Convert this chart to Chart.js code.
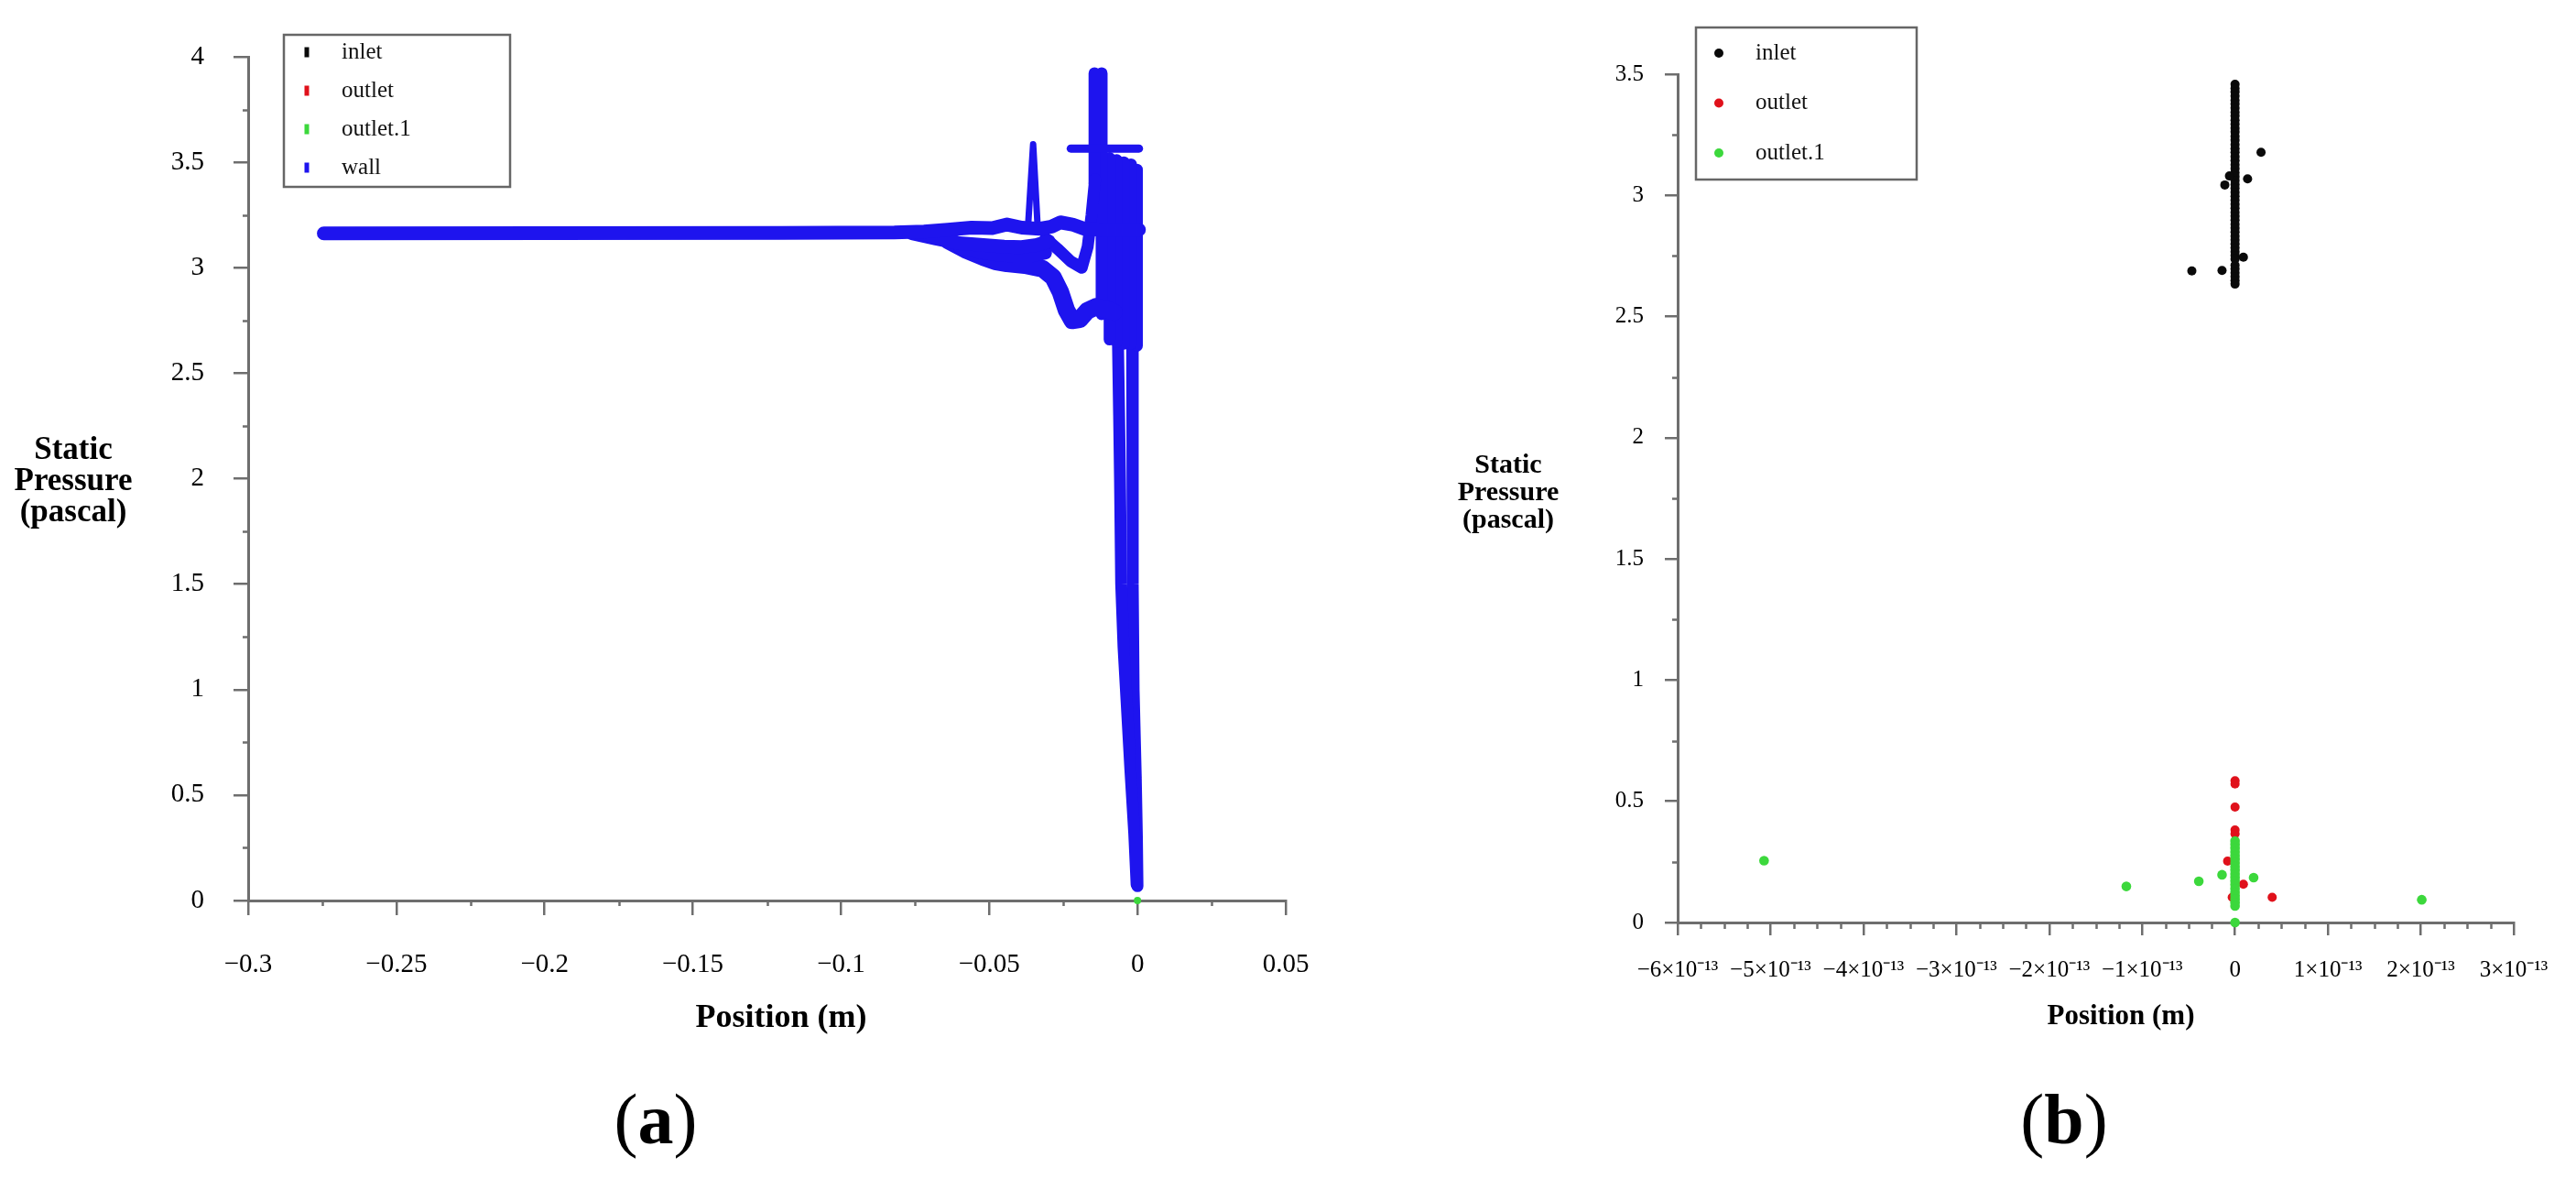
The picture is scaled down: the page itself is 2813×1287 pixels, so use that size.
<!DOCTYPE html>
<html><head><meta charset="utf-8">
<script src="https://cdn.jsdelivr.net/npm/chart.js@4.4.1/dist/chart.umd.min.js"></script>
<style>
html,body{margin:0;padding:0;background:#fff;width:2813px;height:1287px;overflow:hidden;}
canvas{position:absolute;top:0;}
#ca{left:0;} #cb{left:1470px;}
.cap{position:absolute;font-family:"Liberation Serif",serif;font-size:78px;line-height:1;transform:translate(-50%,-50%);color:#000;white-space:nowrap;}
</style></head><body>
<canvas id="ca" width="1470" height="1287"></canvas>
<canvas id="cb" width="1343" height="1287"></canvas>
<div class="cap" style="left:716px;top:1222px">(<b>a</b>)</div>
<div class="cap" style="left:2254px;top:1222px">(<b>b</b>)</div>
<script>
// ---------- data ----------
const seriesNames = ['inlet', 'outlet', 'outlet.1', 'wall'];

// inlet: dense column at x≈0 plus a few scattered points
const inletX = [0,0,0,0,0,0,0,0,0,0,0,0,0,0,0,0,0,0,0,0,0,0,0,0,0,0,0,0,0,0,0,0,0,0,0,0,0,0,0,0,0,0,0,0,0,0,0,0,0,0,0,
  0.28e-13, 0.135e-13, -0.11e-13, -0.06e-13, 0.09e-13, -0.465e-13, -0.14e-13];
const inletY = [3.458,3.441,3.427,3.41,3.392,3.377,3.36,3.343,3.328,3.31,3.294,3.277,3.262,3.244,3.228,3.21,3.193,3.178,3.16,3.144,3.127,3.111,3.094,3.078,3.062,3.045,3.029,3.012,2.996,2.98,2.963,2.947,2.93,2.914,2.898,2.881,2.865,2.849,2.832,2.816,2.8,2.784,2.768,2.752,2.737,2.712,2.697,2.681,2.665,2.649,2.634,
  3.178, 3.068, 3.043, 3.08, 2.745, 2.688, 2.69];

const outletX = [0, 0, 0, 0, 0, -0.08e-13, 0.09e-13, -0.03e-13, 0.40e-13];
const outletY = [0.585, 0.572, 0.476, 0.382, 0.366, 0.253, 0.158, 0.104, 0.104];

const outlet1X = [-5.07e-13, -1.17e-13, -0.39e-13, -0.14e-13, 0.20e-13, 2.01e-13,
  0,0,0,0,0,0,0,0,0,0,0,0,0,0,0,0,0,0,0, 0];
const outlet1Y = [0.255, 0.149, 0.170, 0.197, 0.185, 0.094,
  0.336,0.322,0.307,0.291,0.276,0.262,0.246,0.231,0.216,0.2,0.186,0.171,0.156,0.14,0.125,0.111,0.096,0.082,0.068, 0.0];

// wall traces (position m, pressure Pa)
const wallMain = [[-0.2745,3.163],[-0.2,3.164],[-0.12,3.165],[-0.082,3.167],[-0.072,3.172],[-0.064,3.18],[-0.056,3.19],[-0.049,3.188],[-0.044,3.205],[-0.039,3.19],[-0.033,3.185],[-0.029,3.195],[-0.026,3.215],[-0.022,3.205],[-0.018,3.185],[-0.012,3.18],[-0.006,3.18],[0.0005,3.18]];
const wallSecond = [[-0.076,3.163],[-0.068,3.138],[-0.06,3.116],[-0.052,3.108],[-0.045,3.1],[-0.039,3.098],[-0.034,3.108],[-0.03,3.125]];
const wallThird = [[-0.06,3.095],[-0.054,3.075],[-0.048,3.062],[-0.042,3.055],[-0.036,3.055],[-0.031,3.07]];
const wallLower = [[-0.064,3.13],[-0.058,3.085],[-0.052,3.05],[-0.048,3.03],[-0.044,3.02],[-0.038,3.012],[-0.032,2.995],[-0.0285,2.955],[-0.026,2.885],[-0.024,2.8],[-0.022,2.75],[-0.0195,2.755],[-0.017,2.795],[-0.014,2.815],[-0.011,2.805],[-0.008,2.79]];
const wallV = [[-0.031,3.14],[-0.027,3.09],[-0.0225,3.03],[-0.0188,3.0],[-0.0168,3.1],[-0.0155,3.25],[-0.0143,3.42]];
const wallSpike = [[-0.0369,3.2],[-0.0352,3.585],[-0.0337,3.2]];
const wallBar = [[-0.0225,3.565],[0.0005,3.565]];
const wallTallL = [[-0.0145,3.922],[-0.0145,3.4]];
const wallTallR = [[-0.0121,3.922],[-0.0121,2.78]];
const wallMid1 = [[-0.0094,3.52],[-0.0094,2.66]];
const wallMid2 = [[-0.0070,3.51],[-0.0070,2.65]];
const wallMid3 = [[-0.0046,3.50],[-0.0046,2.64]];
const wallMid4 = [[-0.0022,3.49],[-0.0022,2.64]];
const wallRight = [[-0.0002,3.465],[-0.0002,2.63]];
const wallColL = [[-0.0066,2.66],[-0.0062,2.3],[-0.0059,2.0],[-0.0055,1.5],[-0.0047,1.2],[-0.0037,0.95],[-0.0024,0.62],[-0.0011,0.32],[-0.0003,0.075]];
const wallColR = [[-0.0018,2.66],[-0.0016,2.0],[-0.0016,1.5],[-0.0013,1.0],[-0.0006,0.6],[-0.0002,0.3],[0.0,0.068]];

// ticks
const xTicksA = [-0.3,-0.25,-0.2,-0.15,-0.1,-0.05,0,0.05];
const xLabelsA = ['\u22120.3','\u22120.25','\u22120.2','\u22120.15','\u22120.1','\u22120.05','0','0.05'];
const yTicksA = [0,0.5,1,1.5,2,2.5,3,3.5,4];
const yLabelsA = ['0','0.5','1','1.5','2','2.5','3','3.5','4'];
const xTicksB = [-6e-13,-5e-13,-4e-13,-3e-13,-2e-13,-1e-13,0,1e-13,2e-13,3e-13];
const xLabelsB = ['\u22126\u00d710\u207b\u00b9\u00b3','\u22125\u00d710\u207b\u00b9\u00b3','\u22124\u00d710\u207b\u00b9\u00b3','\u22123\u00d710\u207b\u00b9\u00b3','\u22122\u00d710\u207b\u00b9\u00b3','\u22121\u00d710\u207b\u00b9\u00b3','0','1\u00d710\u207b\u00b9\u00b3','2\u00d710\u207b\u00b9\u00b3','3\u00d710\u207b\u00b9\u00b3'];
const yTicksB = [0,0.5,1,1.5,2,2.5,3,3.5];
const yLabelsB = ['0','0.5','1','1.5','2','2.5','3','3.5'];

// ---------- styling ----------
const FONT = '"Liberation Serif","Times New Roman",serif';
const COL = { inlet:'#0a0a0a', outlet:'#e0111b', outlet1:'#3cd83c', wall:'#1e14ee' };
const AXIS = '#6e6e6e';

const pts = (xs, ys) => xs.map((x, i) => ({x, y: ys[i]}));
const tr = arr => arr.map(([x, y]) => ({x, y}));

const minorTicks = {
  id: 'minorTicks',
  afterDraw(chart, args, o) {
    const {ctx, chartArea: ca, scales} = chart;
    const sx = scales.x, sy = scales.y;
    ctx.save(); ctx.strokeStyle = AXIS; ctx.lineWidth = 2.5;
    const nx = Math.round((sx.max - sx.min) / o.xStep);
    for (let i = 0; i <= nx; i++) {
      if (i % o.xRatio === 0) continue;
      const p = Math.round(sx.getPixelForValue(sx.min + i * o.xStep)) + 0.5;
      ctx.beginPath(); ctx.moveTo(p, ca.bottom); ctx.lineTo(p, ca.bottom + o.xLen); ctx.stroke();
    }
    const ny = Math.round((sy.max - sy.min) / o.yStep);
    for (let i = 0; i <= ny; i++) {
      if (i % o.yRatio === 0) continue;
      const p = Math.round(sy.getPixelForValue(sy.min + i * o.yStep)) + 0.5;
      ctx.beginPath(); ctx.moveTo(ca.left, p); ctx.lineTo(ca.left - o.yLen, p); ctx.stroke();
    }
    ctx.restore();
  }
};

const axisText = {
  id: 'axisText',
  afterDraw(chart, args, o) {
    const ctx = chart.ctx;
    ctx.save();
    ctx.fillStyle = '#000'; ctx.textAlign = 'center'; ctx.textBaseline = 'middle';
    ctx.font = 'bold ' + o.xFont + 'px ' + FONT;
    ctx.fillText(o.xText, o.xPos[0], o.xPos[1]);
    ctx.font = 'bold ' + o.yFont + 'px ' + FONT;
    o.yLines.forEach((t, i) => ctx.fillText(t, o.yPos[0], o.yPos[1] + (i - (o.yLines.length - 1) / 2) * o.yGap));
    ctx.restore();
  }
};

const boxLegend = {
  id: 'boxLegend',
  afterDraw(chart, args, o) {
    const ctx = chart.ctx;
    const seen = new Set(), items = [];
    chart.data.datasets.forEach(ds => {
      if (!seen.has(ds.label)) { seen.add(ds.label); items.push({label: ds.label, color: ds.showLine ? ds.borderColor : ds.backgroundColor}); }
    });
    ctx.save();
    ctx.fillStyle = '#fff'; ctx.fillRect(o.x, o.y, o.w, o.h);
    ctx.strokeStyle = '#666'; ctx.lineWidth = 2.5; ctx.strokeRect(o.x, o.y, o.w, o.h);
    ctx.font = o.font + 'px ' + FONT; ctx.textBaseline = 'middle'; ctx.textAlign = 'left';
    items.forEach((it, i) => {
      const cy = o.row0 + i * o.rowGap;
      ctx.fillStyle = it.color;
      if (o.marker === 'rect') ctx.fillRect(o.mx - 2.5, cy - 5.5, 5, 11);
      else { ctx.beginPath(); ctx.arc(o.mx, cy, o.mr, 0, Math.PI * 2); ctx.fill(); }
      ctx.fillStyle = '#111'; ctx.fillText(it.label, o.tx, cy);
    });
    ctx.restore();
  }
};

function pointSet(label, xs, ys, color, r, order) {
  return { label, data: pts(xs, ys), backgroundColor: color, borderColor: color, borderWidth: 0,
    pointRadius: r, pointHoverRadius: r, showLine: false, clip: false, order };
}
function wallSet(arr, bw) {
  return { label: seriesNames[3], data: tr(arr), borderColor: COL.wall, backgroundColor: COL.wall, borderWidth: bw,
    pointRadius: 0, showLine: true, fill: false, tension: 0, borderCapStyle: 'round', borderJoinStyle: 'round', clip: false, order: 0 };
}
function scale(min, max, ticks, labels, fontSize, pad, tickLen, fixW, fixH) {
  return {
    type: 'linear', min, max,
    afterBuildTicks: s => { s.ticks = ticks.map(v => ({value: v})); },
    afterFit: s => {
      if (fixW) s.width = fixW;
      if (fixH) s.height = fixH;
      s.paddingLeft = 0; s.paddingRight = 0; s.paddingTop = 0; s.paddingBottom = 0;
    },
    ticks: { autoSkip: false, maxRotation: 0, minRotation: 0, padding: pad, color: '#000',
      font: { family: FONT, size: fontSize }, callback: (v, i) => labels[i] },
    grid: { display: true, drawOnChartArea: false, drawTicks: true, tickLength: tickLen, color: AXIS, lineWidth: 2.5 },
    border: { display: true, color: AXIS, width: 3 }
  };
}

// ---------- chart (a) ----------
new Chart(document.getElementById('ca'), {
  type: 'scatter',
  data: { datasets: [
    pointSet(seriesNames[0], inletX, inletY, COL.inlet, 4, 3),
    pointSet(seriesNames[1], outletX, outletY, COL.outlet, 4, 2),
    pointSet(seriesNames[2], outlet1X, outlet1Y, COL.outlet1, 4, 1),
    wallSet(wallMain, 15), wallSet(wallSecond, 15), wallSet(wallThird, 14), wallSet(wallLower, 19), wallSet(wallV, 13),
    wallSet(wallSpike, 7), wallSet(wallBar, 9), wallSet(wallTallL, 13), wallSet(wallTallR, 13),
    wallSet(wallMid1, 13), wallSet(wallMid2, 13), wallSet(wallMid3, 13), wallSet(wallMid4, 13), wallSet(wallRight, 13),
    wallSet(wallColL, 13), wallSet(wallColR, 13)
  ]},
  options: {
    responsive: false, animation: false, events: [],
    layout: { padding: { left: 0, top: 62, right: 66, bottom: 0 } },
    plugins: {
      legend: { display: false }, tooltip: { enabled: false },
      minorTicks: { xStep: 0.025, xRatio: 2, xLen: 6, yStep: 0.25, yRatio: 2, yLen: 6 },
      axisText: { xText: 'Position (m)', xFont: 36, xPos: [853, 1112],
        yLines: ['Static', 'Pressure', '(pascal)'], yFont: 35, yPos: [80, 526], yGap: 34 },
      boxLegend: { x: 310, y: 38, w: 247, h: 166, row0: 57, rowGap: 42, mx: 335, tx: 373, font: 25, marker: 'rect' }
    },
    scales: {
      x: scale(-0.3, 0.05, xTicksA, xLabelsA, 29, 37, 16, 0, 304),
      y: scale(0, 4, yTicksA, yLabelsA, 29, 32, 16, 271, 0)
    }
  },
  plugins: [minorTicks, axisText, boxLegend]
});

// ---------- chart (b) ----------
new Chart(document.getElementById('cb'), {
  type: 'scatter',
  data: { datasets: [
    pointSet(seriesNames[0], inletX, inletY, COL.inlet, 5, 3),
    pointSet(seriesNames[1], outletX, outletY, COL.outlet, 5, 2),
    pointSet(seriesNames[2], outlet1X, outlet1Y, COL.outlet1, 5.3, 1)
  ]},
  options: {
    responsive: false, animation: false, events: [],
    layout: { padding: { left: 0, top: 81, right: 68, bottom: 0 } },
    plugins: {
      legend: { display: false }, tooltip: { enabled: false },
      minorTicks: { xStep: 0.25e-13, xRatio: 4, xLen: 7, yStep: 0.25, yRatio: 2, yLen: 6 },
      axisText: { xText: 'Position (m)', xFont: 31, xPos: [846, 1110],
        yLines: ['Static', 'Pressure', '(pascal)'], yFont: 30, yPos: [177, 538], yGap: 30 },
      boxLegend: { x: 382, y: 30, w: 241, h: 166, row0: 58, rowGap: 54.5, mx: 407, mr: 5, tx: 447, font: 25, marker: 'circle' }
    },
    scales: {
      x: scale(-6e-13, 3e-13, xTicksB, xLabelsB, 25, 23, 14, 0, 280),
      y: scale(0, 3.5, yTicksB, yLabelsB, 25, 23, 14, 362, 0)
    }
  },
  plugins: [minorTicks, axisText, boxLegend]
});
</script>
</body></html>
